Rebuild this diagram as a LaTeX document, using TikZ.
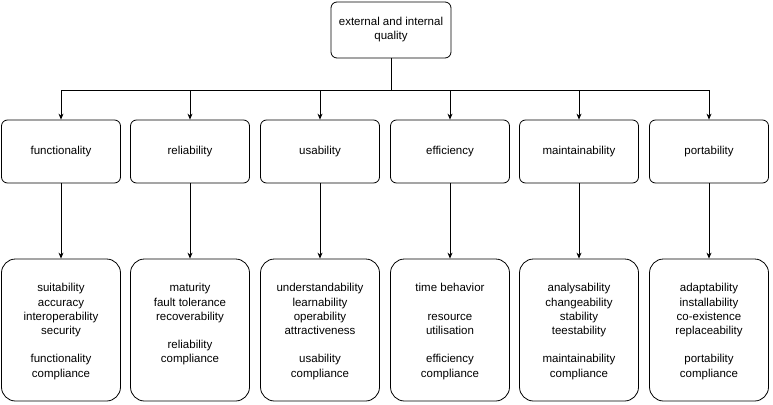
\documentclass[tikz,border=0pt]{standalone}
\usepackage{fontspec}
\setmainfont{Liberation Sans}
\usetikzlibrary{arrows.meta}
\begin{document}
\begin{tikzpicture}[x=1pt,y=-1pt,
 box/.style={draw,thick,rounded corners=6pt,minimum width=119pt,minimum height=63pt,align=center,font=\fontsize{11.5}{14}\selectfont},
 bigbox/.style={draw,thick,rounded corners=14pt,minimum width=119pt,minimum height=142pt},
 txt/.style={align=center,anchor=north,font=\fontsize{11.5}{14.2}\selectfont},
 arr/.style={-{Stealth[length=6pt,width=5pt]},thick}]
\useasboundingbox (0,0) rectangle (773,404);
\node[box,minimum width=120pt,minimum height=56pt] (top) at (391,30) {external and internal\\quality};
\coordinate (bus) at (391,90);
\foreach \n/\x/\l in {f/61/functionality,r/190/reliability,u/320/usability,e/450/efficiency,m/579/maintainability,p/709/portability}{
  \node[box] (\n) at (\x,151.5) {\l};
  \node[bigbox] (\n b) at (\x,330) {};
  \draw[arr] (\n.south) -- (\n b.north);
  \draw[arr] (bus) -| (\n.north);
}
\draw[thick] (top.south) -- (bus);
\node[txt] (tf) at (61,280) {suitability\\accuracy\\interoperability\\security\\[14.2pt]functionality\\compliance};
\node[txt] (tr) at (190,280) {maturity\\fault tolerance\\recoverability\\[14.2pt]reliability\\compliance};
\node[txt] (tu) at (320,280) {understandability\\learnability\\operability\\attractiveness\\[14.2pt]usability\\compliance};
\node[txt] (te) at (450,280) {time behavior\\[14.2pt]resource\\utilisation\\[14.2pt]efficiency\\compliance};
\node[txt] (tm) at (579,280) {analysability\\changeability\\stability\\teestability\\[14.2pt]maintainability\\compliance};
\node[txt] (tp) at (709,280) {adaptability\\installability\\co-existence\\replaceability\\[14.2pt]portability\\compliance};
\end{tikzpicture}
\end{document}
